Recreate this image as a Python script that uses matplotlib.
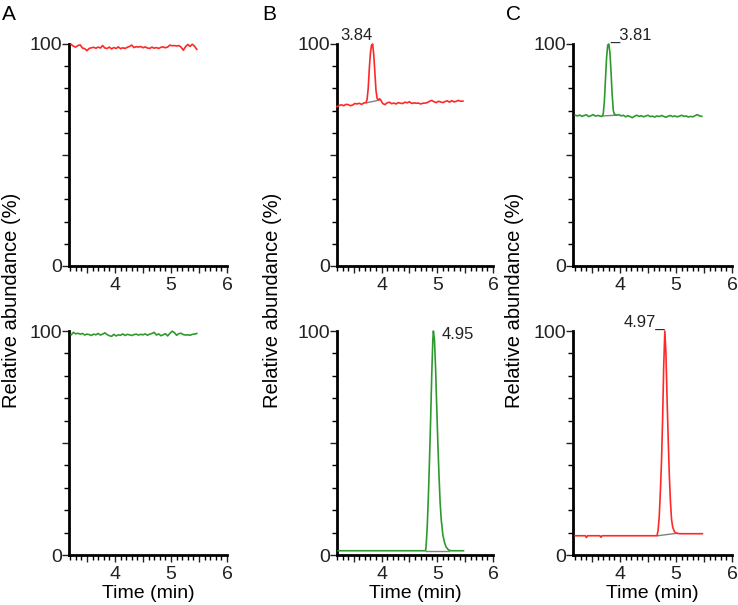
import numpy as np
import matplotlib
matplotlib.use('Agg')
import matplotlib.pyplot as plt
from matplotlib.ticker import MultipleLocator

plt.rcParams['font.family'] = ['Liberation Sans', 'DejaVu Sans']

red = '#ff2828'
green = '#2f992f'
grey = '#808080'

# common sampling for the flat traces (panel A)
t_flat = [3.22, 3.26, 3.30, 3.34, 3.38, 3.42, 3.46, 3.50, 3.54, 3.58, 3.62, 3.66, 3.70, 3.74,
          3.78, 3.82, 3.86, 3.90, 3.94, 3.98, 4.02, 4.06, 4.10, 4.14, 4.18, 4.22, 4.26, 4.30,
          4.34, 4.38, 4.42, 4.46, 4.50, 4.54, 4.58, 4.62, 4.66, 4.70, 4.74, 4.78, 4.82, 4.86,
          4.90, 4.94, 4.98, 5.02, 5.06, 5.10, 5.14, 5.18, 5.22, 5.26, 5.30, 5.34, 5.38, 5.42, 5.46]
a_top = [99.8, 99.0, 98.6, 99.3, 99.6, 98.2, 97.9, 97.0, 98.0, 98.3, 98.5, 98.1, 98.6, 98.2,
         99.3, 98.2, 98.0, 98.6, 97.8, 98.4, 98.0, 98.7, 97.9, 98.3, 98.0, 98.5, 98.9, 99.5,
         98.4, 98.8, 98.6, 98.9, 98.3, 98.7, 98.2, 98.0, 98.6, 98.1, 98.4, 98.0, 98.5, 98.7,
         98.3, 98.6, 99.5, 99.2, 99.3, 99.1, 99.3, 98.6, 97.2, 98.8, 99.8, 98.9, 99.9, 99.0, 97.6]
a_bot = [98.3, 99.4, 98.7, 99.0, 98.6, 98.9, 98.2, 98.6, 98.4, 98.0, 98.6, 98.3, 98.9, 98.2,
         98.6, 99.2, 98.4, 97.9, 97.6, 98.5, 97.8, 98.3, 98.1, 98.7, 98.0, 98.5, 98.3, 98.0,
         98.4, 98.6, 98.2, 98.5, 98.3, 98.7, 98.1, 98.6, 98.9, 99.4, 98.2, 98.7, 97.9, 98.3,
         98.8, 97.8, 98.9, 99.9, 99.3, 98.1, 98.8, 99.0, 98.4, 98.2, 98.3, 98.1, 98.5, 98.6, 98.9]

# panel B, top (red, peak 3.84)
t_b_top = [3.20, 3.24, 3.28, 3.32, 3.36, 3.40, 3.44, 3.48, 3.52, 3.56, 3.60, 3.64, 3.68, 3.72,
           3.74, 3.76, 3.78, 3.80, 3.82, 3.84, 3.86, 3.88, 3.90, 3.92, 3.94, 3.96, 3.98,
           4.02, 4.06, 4.10, 4.14, 4.18, 4.22, 4.26, 4.30, 4.34, 4.38, 4.42, 4.46, 4.50, 4.54,
           4.58, 4.62, 4.66, 4.70, 4.74, 4.78, 4.82, 4.86, 4.90, 4.94, 4.98, 5.02, 5.06, 5.10,
           5.14, 5.18, 5.22, 5.26, 5.30, 5.34, 5.38, 5.42, 5.46]
y_b_top = [71.8, 72.3, 72.6, 72.2, 72.8, 72.7, 72.2, 72.5, 73.2, 73.0, 73.3, 72.8, 73.4, 73.6,
           75.0, 80, 89, 96, 99.5, 100, 95, 87, 79, 75.5, 74.8, 75.3, 75.0,
           73.2, 72.7, 73.5, 73.8, 73.1, 73.4, 73.0, 73.6, 73.3, 73.2, 73.8, 73.5, 74.0, 73.2,
           73.5, 73.3, 73.4, 73.0, 73.3, 73.4, 73.6, 74.2, 74.6, 74.0, 73.6, 74.2, 73.9, 73.6,
           74.1, 74.4, 73.8, 74.5, 73.9, 74.2, 74.6, 74.2, 74.3]

# panel B, bottom (green, peak 4.95)
t_b_bot = [3.22, 4.79, 4.80, 4.82, 4.84, 4.86, 4.88, 4.90, 4.92, 4.93, 4.95, 4.97, 4.99, 5.01,
           5.03, 5.05, 5.07, 5.10, 5.13, 5.16, 5.20, 5.25, 5.47]
y_b_bot = [1.9, 1.9, 4, 13, 26, 42, 60, 80, 96, 100, 96, 83, 66, 50,
           36, 24, 16, 9, 5.5, 3.5, 2.3, 1.9, 1.9]

# panel C, top (green, peak 3.81)
t_c_top = [3.20, 3.24, 3.28, 3.32, 3.36, 3.40, 3.44, 3.48, 3.52, 3.56, 3.60, 3.64,
           3.66, 3.68, 3.70, 3.72, 3.74, 3.76, 3.78, 3.80, 3.82, 3.84, 3.86, 3.88, 3.90, 3.92, 3.94,
           3.98, 4.02, 4.06, 4.10, 4.14, 4.18, 4.22, 4.26, 4.30, 4.34, 4.38, 4.42, 4.46, 4.50,
           4.54, 4.58, 4.62, 4.66, 4.70, 4.74, 4.78, 4.82, 4.86, 4.90, 4.94, 4.98, 5.02, 5.06,
           5.10, 5.14, 5.18, 5.22, 5.26, 5.30, 5.34, 5.38, 5.42, 5.46]
y_c_top = [67.9, 67.6, 68.0, 67.4, 67.8, 68.1, 67.3, 67.7, 68.2, 67.5, 67.8, 67.6,
           67.4, 67.5, 68.5, 74, 84, 94, 99.5, 100, 96, 87, 77, 70, 68.2, 68.2, 67.9,
           68.2, 67.6, 67.9, 67.2, 67.7, 67.3, 66.8, 67.5, 67.9, 67.4, 67.7, 67.2, 67.6, 67.9,
           67.3, 67.5, 67.1, 67.6, 67.3, 67.8, 67.4, 67.0, 67.5, 67.8, 67.3, 67.6, 67.2, 67.5,
           67.9, 67.4, 67.6, 67.1, 67.4, 67.2, 67.7, 68.2, 67.6, 67.4]

# panel C, bottom (red, peak 4.97)
t_c_bot = [3.20, 3.38, 3.40, 3.42, 3.64, 3.66, 3.68, 4.66, 4.68, 4.70, 4.72, 4.74, 4.76,
           4.78, 4.80, 4.82, 4.84, 4.86, 4.88, 4.90, 4.92, 4.94, 4.97, 5.00, 5.03, 5.10, 5.47]
y_c_bot = [8.6, 8.6, 7.8, 8.6, 8.6, 7.9, 8.6, 8.6, 11, 17, 28, 41, 60,
           84, 100, 90, 70, 52, 36, 24, 16, 12.5, 10.5, 9.8, 9.6, 9.5, 9.5]

# integration baselines under the peaks
base_b_top = ([3.73, 3.97], [73.5, 74.8])
base_b_bot = ([4.79, 5.21], [1.9, 1.9])
base_c_top = ([3.69, 3.92], [67.6, 67.9])
base_c_bot = ([4.67, 5.02], [8.6, 9.7])

fig = plt.figure(figsize=(7.38, 6.05), dpi=100)

lefts = [69 / 738, 337 / 738, 573 / 738]
widths = [158 / 738, 156 / 738, 159 / 738]
xmins = [3.18, 3.20, 3.16]
bottoms = [(605 - 266) / 605, (605 - 555) / 605]
heights = [222 / 605, 224 / 605]

traces = [
    [(t_flat, a_top, red, None, None), (t_flat, a_bot, green, None, None)],
    [(t_b_top, y_b_top, red, base_b_top, ('3.84', 3.845, 100.5, 'right', 'bottom')),
     (t_b_bot, y_b_bot, green, base_b_bot, ('4.95', 5.08, 98.5, 'left', 'center'))],
    [(t_c_top, y_c_top, green, base_c_top, ('_3.81', 3.82, 100.5, 'left', 'bottom')),
     (t_c_bot, y_c_bot, red, base_c_bot, ('4.97_', 4.80, 100.5, 'right', 'bottom'))],
]

for col in range(3):
    for row in range(2):
        ax = fig.add_axes([lefts[col], bottoms[row], widths[col], heights[row]])
        t, y, c, base, lab = traces[col][row]
        if base is not None:
            ax.plot(base[0], base[1], color=grey, lw=1, zorder=2)
        ax.plot(t, y, color=c, lw=1.2, clip_on=False, zorder=3)
        if lab is not None:
            ax.text(lab[1], lab[2], lab[0], ha=lab[3], va=lab[4], fontsize=12, color='#222222')
        ax.set_xlim(xmins[col], 6.0)
        ax.set_ylim(0, 100)
        for s in ['top', 'right']:
            ax.spines[s].set_visible(False)
        for s in ['left', 'bottom']:
            ax.spines[s].set_linewidth(2)
        ax.set_xticks([3.5, 4, 4.5, 5, 5.5, 6])
        ax.set_xticklabels(['', '4', '', '5', '', '6'])
        ax.xaxis.set_minor_locator(MultipleLocator(0.1))
        ax.set_yticks([0, 50, 100])
        ax.set_yticklabels(['0', '', '100'])
        ax.yaxis.set_minor_locator(MultipleLocator(10))
        ax.tick_params(which='major', direction='out', length=5, width=1, labelsize=14,
                       colors='#222222')
        ax.tick_params(which='minor', direction='out', length=3.5, width=1)
        ax.tick_params(axis='y', which='major', pad=0)
        ax.tick_params(axis='x', which='major', pad=3)
        if row == 1:
            ax.set_xlabel('Time (min)', fontsize=14, labelpad=1)

# panel letters and shared y labels
for letter, x in zip(['A', 'B', 'C'], [2, 262, 506]):
    fig.text(x / 738, 1 - 20 / 605, letter, fontsize=15, ha='left', va='baseline')
for x in [12, 272, 515]:
    fig.text(x / 738, 1 - 300 / 605, 'Relative abundance (%)', rotation=90,
             ha='center', va='center', fontsize=14.5)

plt.savefig('out.png', dpi=100)
